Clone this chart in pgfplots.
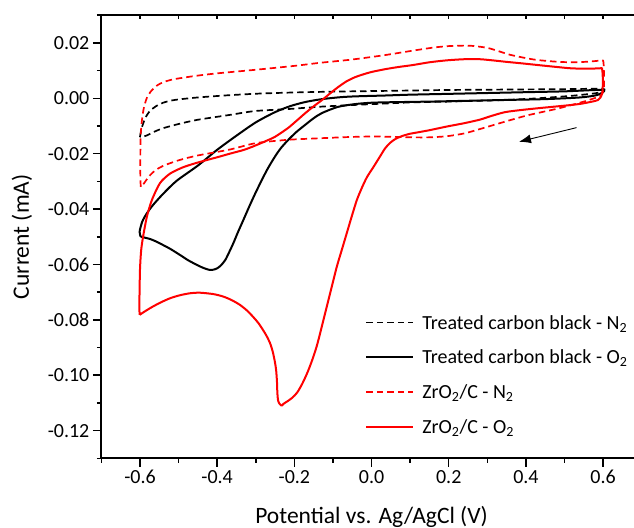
\documentclass[border=0pt]{standalone}
\usepackage{pgfplots}
\pgfplotsset{compat=1.18}
\usepackage{fontspec}
\setmainfont{Carlito}
\usetikzlibrary{arrows.meta}
\newcommand{\tickfont}{\fontsize{20bp}{24bp}\selectfont}
\newcommand{\labfont}{\fontsize{23.5bp}{28bp}\selectfont}
\newcommand{\legfont}{\fontsize{20bp}{24bp}\selectfont}
\definecolor{pred}{RGB}{255,0,0}

\begin{document}
\begin{tikzpicture}
\pgfplotsset{
  common/.style={
    scale only axis, width=532.7bp, height=443.2bp,
    xmin=-0.7, xmax=0.68, ymin=-0.13, ymax=0.03,
    axis line style={line width=1.8bp, black},
    tick style={line width=1.5bp, black},
  }
}
\begin{axis}[common,
  axis x line*=bottom, axis y line*=left,
  tick align=outside,
  major tick length=8.5bp, minor tick length=4.5bp,
  xtick={-0.6,-0.4,-0.2,0,0.2,0.4,0.6},
  minor xtick={-0.7,-0.5,-0.3,-0.1,0.1,0.3,0.5},
  ytick={-0.12,-0.10,-0.08,-0.06,-0.04,-0.02,0,0.02},
  minor ytick={-0.13,-0.11,-0.09,-0.07,-0.05,-0.03,-0.01,0.01,0.03},
  /pgf/number format/assume math mode=true,
  xticklabel style={font=\tickfont, /pgf/number format/.cd, fixed, fixed zerofill, precision=1},
  yticklabel style={font=\tickfont, /pgf/number format/.cd, fixed, fixed zerofill, precision=2},
  scaled y ticks=false, scaled x ticks=false,
  xlabel={Potential vs. Ag/AgCl (V)},
  ylabel={Current (mA)},
  xlabel style={font=\labfont, at={(axis cs:0,-0.1535)}, anchor=base},
  ylabel style={font=\labfont, at={(axis cs:-0.888,-0.05)}, anchor=base},
  legend cell align=left,
  legend image code/.code={\draw[#1] (0bp,0bp) -- (47bp,0bp);},
  legend style={at={(axis cs:-0.0165,-0.0771)}, anchor=north west,
    draw=none, fill=none, inner sep=0pt, row sep=13.7bp,
    font=\legfont,
    nodes={inner sep=1bp, text height=16bp, text depth=3bp},
    /tikz/every odd column/.style={column sep=7bp}},
  every axis plot/.append style={smooth, tension=0.45, line join=round},
]
\coordinate (sw) at (rel axis cs:0,0);
\coordinate (ne) at (rel axis cs:1,1);

% Treated carbon black - N2
\addplot[black, line width=1.7bp, dash pattern=on 6.5bp off 4bp] coordinates {
(-0.600,-0.0140) (-0.597,-0.0115) (-0.592,-0.0092) (-0.585,-0.0068) (-0.575,-0.0047)
(-0.560,-0.0030) (-0.540,-0.0016) (-0.510,-0.0006) (-0.450,0.0003) (-0.370,0.0011)
(-0.290,0.0017) (-0.200,0.0021) (-0.100,0.0024) (0.000,0.0026) (0.100,0.0028)
(0.200,0.0030) (0.300,0.0031) (0.400,0.0032) (0.500,0.0033) (0.600,0.0034)
(0.592,0.0023) (0.579,0.0018) (0.519,0.0009) (0.431,0.0000) (0.346,-0.0006)
(0.200,-0.0012) (0.100,-0.0015) (0.035,-0.0019) (-0.043,-0.0024) (-0.128,-0.0030)
(-0.217,-0.0039) (-0.302,-0.0046) (-0.367,-0.0060) (-0.452,-0.0078) (-0.500,-0.0093)
(-0.540,-0.0108) (-0.565,-0.0122) (-0.582,-0.0134) (-0.595,-0.0140) (-0.600,-0.0140)
};
\addlegendentry{Treated carbon black - N\textsubscript{2}}

% Treated carbon black - O2
\addplot[black, line width=2bp] coordinates {
(-0.598,-0.0500) (-0.601,-0.0482) (-0.594,-0.0445) (-0.582,-0.0415) (-0.566,-0.0385)
(-0.540,-0.0345) (-0.505,-0.0298) (-0.450,-0.0243) (-0.400,-0.0186) (-0.350,-0.0135)
(-0.300,-0.0087) (-0.250,-0.0050) (-0.210,-0.0028) (-0.170,-0.0013) (-0.128,-0.0003)
(-0.080,0.0004) (-0.040,0.0007) (0.035,0.0010) (0.100,0.0013) (0.200,0.0016)
(0.300,0.0019) (0.400,0.0022) (0.500,0.0025) (0.600,0.0030)
(0.585,0.0012) (0.540,0.0003) (0.450,-0.0003) (0.350,-0.0006) (0.250,-0.0009)
(0.150,-0.0012) (0.060,-0.0014) (0.000,-0.0016) (-0.043,-0.0021) (-0.087,-0.0031)
(-0.128,-0.0053) (-0.150,-0.0072) (-0.172,-0.0096) (-0.195,-0.0122) (-0.217,-0.0152)
(-0.235,-0.0180) (-0.250,-0.0210) (-0.271,-0.0259) (-0.297,-0.0331) (-0.315,-0.0385)
(-0.332,-0.0439) (-0.346,-0.0483) (-0.358,-0.0523) (-0.369,-0.0556) (-0.379,-0.0584)
(-0.390,-0.0603) (-0.400,-0.0614) (-0.410,-0.0619) (-0.419,-0.0620) (-0.435,-0.0613)
(-0.452,-0.0602) (-0.475,-0.0585) (-0.496,-0.0566) (-0.520,-0.0545) (-0.540,-0.0530)
(-0.560,-0.0516) (-0.574,-0.0508) (-0.588,-0.0503) (-0.598,-0.0500)
};
\addlegendentry{Treated carbon black - O\textsubscript{2}}

% ZrO2/C - N2
\addplot[pred, line width=1.7bp, dash pattern=on 6.5bp off 4bp] coordinates {
(-0.598,-0.0320) (-0.599,-0.0280) (-0.599,-0.0200) (-0.598,-0.0130) (-0.595,-0.0080)
(-0.590,-0.0035) (-0.582,0.0002) (-0.570,0.0028) (-0.556,0.0046) (-0.540,0.0058)
(-0.515,0.0068) (-0.480,0.0076) (-0.450,0.0082) (-0.400,0.0090) (-0.300,0.0103)
(-0.200,0.0117) (-0.134,0.0128) (-0.050,0.0140) (0.035,0.0156) (0.107,0.0172)
(0.160,0.0183) (0.195,0.0188) (0.230,0.0190) (0.263,0.0189) (0.300,0.0182)
(0.325,0.0172) (0.359,0.0157) (0.400,0.0145) (0.431,0.0138) (0.480,0.0132)
(0.519,0.0130) (0.560,0.0132) (0.592,0.0136) (0.600,0.0136)
(0.602,0.0100) (0.602,0.0040) (0.598,0.0018) (0.590,0.0006) (0.579,0.0001)
(0.550,-0.0012) (0.519,-0.0024) (0.480,-0.0038) (0.431,-0.0053) (0.400,-0.0063)
(0.359,-0.0079) (0.320,-0.0095) (0.281,-0.0111) (0.240,-0.0127) (0.195,-0.0137)
(0.150,-0.0141) (0.107,-0.0141) (0.050,-0.0139) (0.000,-0.0138) (-0.060,-0.0140)
(-0.128,-0.0144) (-0.217,-0.0150) (-0.300,-0.0162) (-0.367,-0.0185) (-0.452,-0.0207)
(-0.500,-0.0224) (-0.540,-0.0244) (-0.560,-0.0260) (-0.574,-0.0278) (-0.585,-0.0298)
(-0.593,-0.0314) (-0.598,-0.0320)
};
\addlegendentry{ZrO\textsubscript{2}/C - N\textsubscript{2}}

% ZrO2/C - O2
\addplot[pred, line width=2bp] coordinates {
(-0.601,-0.0782) (-0.6015,-0.0740) (-0.600,-0.0620) (-0.597,-0.0550) (-0.592,-0.0500)
(-0.582,-0.0427) (-0.569,-0.0367) (-0.548,-0.0306) (-0.522,-0.0272) (-0.490,-0.0250)
(-0.460,-0.0236) (-0.427,-0.0223) (-0.400,-0.0213) (-0.367,-0.0200) (-0.330,-0.0186)
(-0.300,-0.0170) (-0.270,-0.0152) (-0.250,-0.0139) (-0.217,-0.0108) (-0.195,-0.0082)
(-0.172,-0.0054) (-0.150,-0.0029) (-0.128,-0.0006) (-0.107,0.0018) (-0.087,0.0040)
(-0.065,0.0061) (-0.043,0.0076) (-0.020,0.0087) (0.000,0.0095) (0.035,0.0105)
(0.070,0.0113) (0.107,0.0120) (0.150,0.0130) (0.195,0.0137) (0.240,0.0141)
(0.281,0.0141) (0.320,0.0136) (0.346,0.0132) (0.390,0.0126) (0.431,0.0120)
(0.480,0.0113) (0.519,0.0108) (0.560,0.0107) (0.592,0.0108) (0.597,0.0108)
(0.599,0.0080) (0.599,0.0040) (0.597,0.0015) (0.587,-0.0006) (0.550,-0.0018)
(0.519,-0.0024) (0.475,-0.0030) (0.431,-0.0036) (0.390,-0.0042) (0.346,-0.0050)
(0.310,-0.0064) (0.281,-0.0077) (0.240,-0.0090) (0.195,-0.0102) (0.151,-0.0115)
(0.120,-0.0123) (0.100,-0.0128) (0.080,-0.0136) (0.063,-0.0146) (0.048,-0.0161)
(0.035,-0.0181) (0.022,-0.0210) (0.005,-0.0248) (-0.012,-0.0285) (-0.025,-0.0323)
(-0.038,-0.0367) (-0.051,-0.0425) (-0.064,-0.0486) (-0.077,-0.0547) (-0.090,-0.0608)
(-0.103,-0.0680) (-0.116,-0.0752) (-0.129,-0.0825) (-0.142,-0.0895) (-0.155,-0.0950)
(-0.167,-0.0993) (-0.180,-0.1032) (-0.193,-0.1063) (-0.206,-0.1082) (-0.219,-0.1095)
(-0.228,-0.1103) (-0.233,-0.1110) (-0.238,-0.1104) (-0.242,-0.1092) (-0.244,-0.1065)
(-0.245,-0.1025) (-0.247,-0.0985) (-0.250,-0.0955) (-0.256,-0.0915) (-0.263,-0.0884)
(-0.272,-0.0858) (-0.281,-0.0837) (-0.293,-0.0812) (-0.307,-0.0789) (-0.323,-0.0766)
(-0.341,-0.0746) (-0.362,-0.0729) (-0.384,-0.0716) (-0.410,-0.0707) (-0.445,-0.0702)
(-0.470,-0.0704) (-0.496,-0.0711) (-0.520,-0.0721) (-0.540,-0.0733) (-0.560,-0.0747)
(-0.574,-0.0758) (-0.588,-0.0770) (-0.601,-0.0782)
};
\addlegendentry{ZrO\textsubscript{2}/C - O\textsubscript{2}}

\draw[line width=0.9bp, -{Latex[length=12bp,width=9bp]}] (axis cs:0.531,-0.0106) -- (axis cs:0.382,-0.0157);
\end{axis}

\begin{axis}[common,
  axis x line*=top, axis y line=none,
  tick align=inside, major tick length=3.5bp,
  xtick={-0.6,-0.5,-0.4,-0.3,-0.2,-0.1,0,0.1,0.2,0.3,0.4,0.5,0.6},
  xticklabels={}, ytick=\empty,
]
\end{axis}

\pgfresetboundingbox
\path ([xshift=-101.4bp,yshift=-69.6bp]sw) rectangle ([yshift=15.2bp]ne);
\end{tikzpicture}
\end{document}
